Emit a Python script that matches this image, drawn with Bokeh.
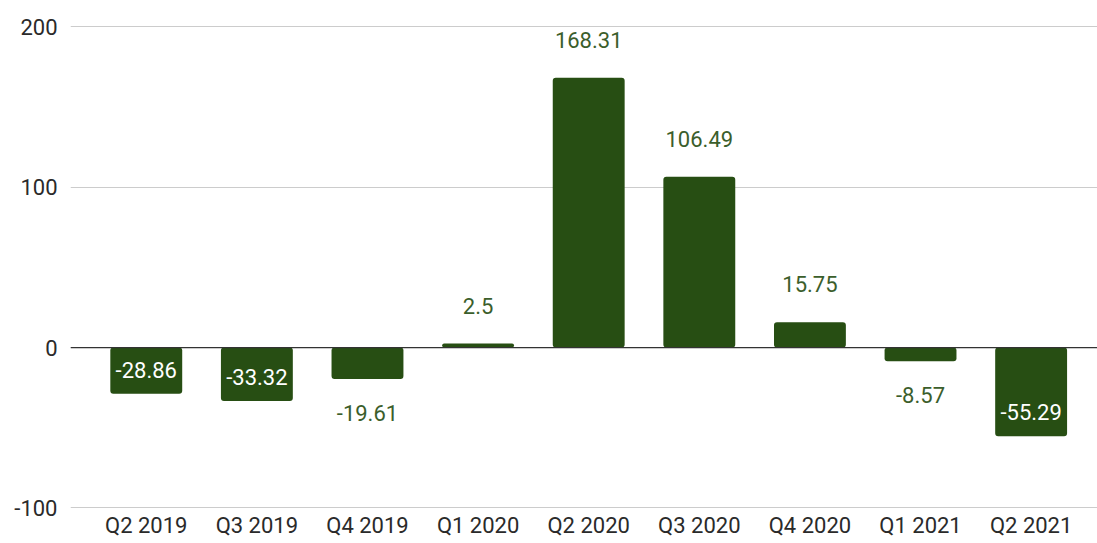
from bokeh.plotting import figure
from bokeh.models import ColumnDataSource, Range1d, FixedTicker, LabelSet, Span
from bokeh.core.properties import value
from bokeh.embed import file_html
from bokeh.resources import INLINE

categories = ["Q2 2019", "Q3 2019", "Q4 2019", "Q1 2020", "Q2 2020",
              "Q3 2020", "Q4 2020", "Q1 2021", "Q2 2021"]
values = [-28.86, -33.32, -19.61, 2.5, 168.31, 106.49, 15.75, -8.57, -55.29]
y_ticks = [-100, 0, 100, 200]

BAR = "#274e13"
LABEL_GREEN = "#3b5e2b"
FONT = "Roboto"
FS = "22px"

xs = list(range(len(categories)))
inside = [v < -25 for v in values]
offsets = [(24 if ins else (38 if v >= 0 else -34)) for v, ins in zip(values, inside)]
colors = [("#ffffff" if ins else LABEL_GREEN) for ins in inside]
texts = [f"{v:g}" for v in values]

src = ColumnDataSource(dict(x=xs, top=values, yoff=offsets, color=colors, text=texts))

p = figure(width=1097, height=543, output_backend="svg", toolbar_location=None,
           x_range=Range1d(-0.685, 8.6), y_range=Range1d(-101.0, 204.0),
           min_border_left=70, min_border_right=0, min_border_top=20, min_border_bottom=34)
p.outline_line_color = None
p.background_fill_color = "white"

p.vbar(x="x", top="top", bottom=0, width=0.65, source=src, fill_color=BAR,
       line_color=None, border_radius=3)

p.add_layout(Span(location=0, dimension="width", line_color="#333333", line_width=1.3))

labels = LabelSet(x="x", y="top", text="text", y_offset="yoff", source=src,
                  text_align="center", text_baseline="middle", text_color="color",
                  text_font=value(FONT), text_font_size=FS)
p.add_layout(labels)

p.xaxis.ticker = FixedTicker(ticks=xs)
p.xaxis.major_label_overrides = {i: c for i, c in enumerate(categories)}
p.yaxis.ticker = FixedTicker(ticks=y_ticks)
p.yaxis.major_label_overrides = {t: str(t) for t in y_ticks}
for ax in (p.xaxis, p.yaxis):
    ax.axis_line_color = None
    ax.major_tick_line_color = None
    ax.minor_tick_line_color = None
    ax.major_label_text_font = FONT
    ax.major_label_text_font_size = FS
    ax.major_label_text_color = "#2a2a2a"
p.xaxis.major_label_standoff = -3
p.yaxis.major_label_standoff = 7

p.xgrid.grid_line_color = None
p.ygrid.grid_line_color = "#cccccc"
p.ygrid.grid_line_width = 1

open("out.html", "w").write(file_html(p, INLINE))
